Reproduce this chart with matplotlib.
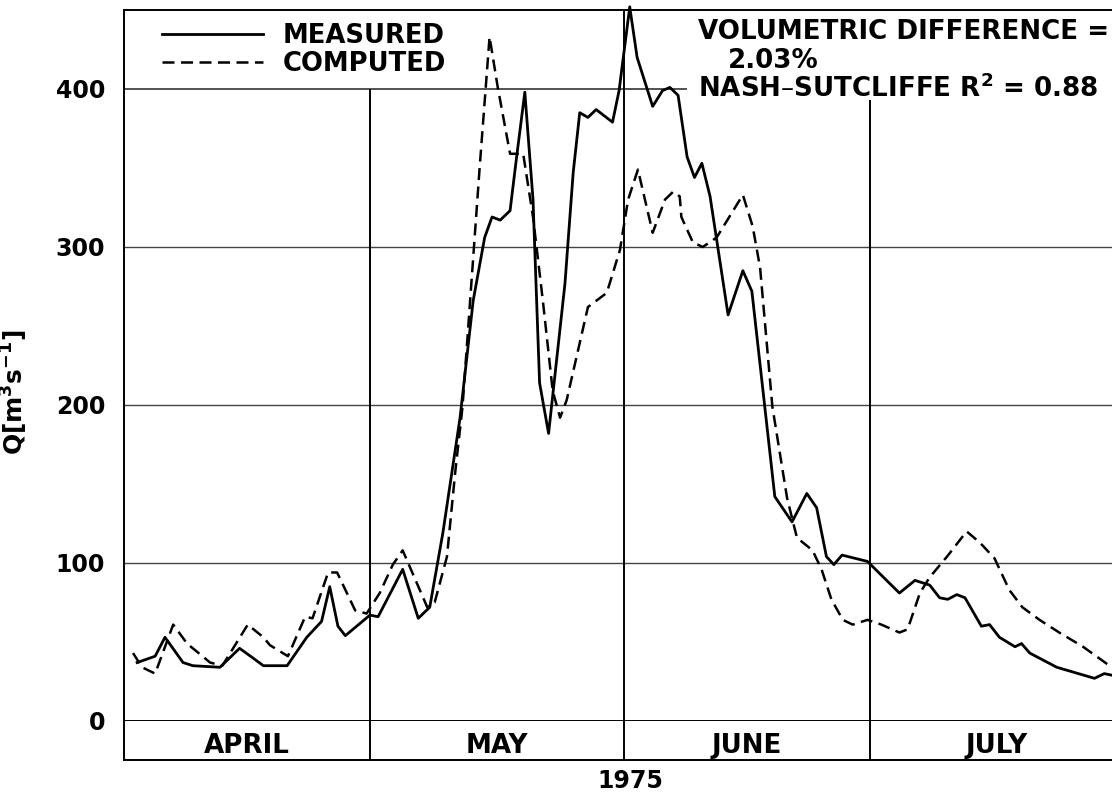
import matplotlib
matplotlib.use('Agg')
import matplotlib.pyplot as plt

plt.rcParams['font.family'] = ['DejaVu Sans']
plt.rcParams['font.weight'] = 'bold'
plt.rcParams['axes.labelweight'] = 'bold'
plt.rcParams['mathtext.fontset'] = 'dejavusans'
plt.rcParams['mathtext.default'] = 'bf'

# days counted from 1 April 1975
months = ['APRIL', 'MAY', 'JUNE', 'JULY']
month_start = [0, 30, 61, 91, 122]
divider_top = [400, 450, 393]

meas_day = [1.6, 3.8, 5.0, 7.2, 8.4, 11.7, 14.1, 15.7, 17.0, 19.9, 22.3, 24.1, 25.1,
            26.1, 27.0, 30.0, 31.0, 34.0, 35.9, 37.3, 38.9, 41.0, 42.6, 44.0, 44.9,
            45.9, 47.1, 47.9, 48.9, 49.9, 50.7, 51.8, 53.8, 54.8, 55.6, 56.6, 57.6,
            59.6, 60.4, 61.7, 62.6, 64.5, 65.7, 66.6, 67.6, 68.7, 69.6, 70.5, 71.5,
            73.7, 75.5, 76.6, 79.4, 81.5, 83.3, 84.5, 85.7, 86.6, 87.6, 90.7, 94.6,
            96.5, 98.3, 99.5, 100.5, 101.6, 102.6, 104.6, 105.6, 106.8, 108.7, 109.5,
            110.5, 113.8, 118.4, 119.6, 120.5]
meas_q = [37, 41, 53, 37, 35, 34, 46, 40, 35, 35, 53, 63, 85,
          60, 54, 67, 66, 96, 65, 72, 119, 192, 266, 306, 319,
          317, 323, 357, 398, 330, 214, 182, 277, 347, 385, 382, 387,
          379, 399, 452, 420, 389, 399, 401, 396, 357, 344, 353, 332,
          257, 285, 272, 142, 126, 144, 135, 104, 99, 105, 101, 81,
          89, 86, 78, 77, 80, 78, 60, 61, 53, 47, 49,
          43, 34, 27, 30, 29]

comp_day = [1.1, 2.2, 3.8, 6.0, 7.7, 10.5, 12.0, 15.1, 17.0, 17.8, 20.0, 22.1, 23.0,
            24.9, 26.0, 28.2, 29.6, 31.2, 32.8, 34.0, 37.0, 37.9, 39.4, 40.4, 41.3,
            43.4, 44.6, 45.6, 47.1, 48.7, 49.9, 51.1, 52.3, 53.2, 54.0, 56.6, 58.9,
            60.5, 61.5, 62.7, 64.5, 66.0, 67.0, 67.8, 68.0, 69.4, 70.6, 72.3, 75.5,
            76.7, 77.6, 79.1, 80.9, 82.1, 84.0, 85.1, 86.3, 87.7, 88.9, 90.7, 92.4,
            94.6, 95.6, 97.1, 98.3, 100.4, 102.8, 104.4, 106.2, 108.0, 109.6, 111.7,
            114.1, 117.0, 120.5]
comp_q = [43, 34, 30, 61, 49, 37, 35, 61, 53, 48, 41, 66, 65,
          94, 94, 70, 68, 81, 99, 108, 72, 75, 104, 157, 199,
          351, 433, 401, 359, 359, 319, 266, 209, 192, 203, 262, 271,
          298, 330, 349, 309, 330, 335, 332, 319, 303, 300, 306, 333,
          313, 287, 199, 141, 116, 108, 96, 77, 64, 61, 64, 61,
          56, 58, 81, 91, 104, 120, 113, 103, 83, 72, 64,
          56, 47, 34]

yticks = [0, 100, 200, 300, 400]

W, H = 1112, 792
fig = plt.figure(figsize=(W / 100, H / 100), dpi=100)
ax = fig.add_axes([124 / W, (H - 721) / H, 1000 / W, 711 / H])
strip = fig.add_axes([124 / W, (H - 760) / H, 1000 / W, 39 / H])

ax.set_xlim(month_start[0], month_start[-1])
ax.set_ylim(0, 450)

for y in yticks[1:-1]:
    ax.axhline(y, color='#444444', lw=1.0, zorder=1)
ax.hlines(yticks[-1], 0, 68.7, color='#222222', lw=1.1, zorder=1)
ax.vlines(month_start[1:4], 0, divider_top, color='black', lw=1.4, zorder=1)

ax.plot(meas_day, meas_q, color='black', lw=2.0, label='MEASURED',
        clip_on=False, zorder=3)
ax.plot(comp_day, comp_q, color='black', lw=1.8, ls='--', dashes=(4.8, 2.6),
        label='COMPUTED', zorder=3)

for s in ax.spines.values():
    s.set_linewidth(1.4)
ax.set_xticks([])
ax.set_yticks(yticks)
ax.tick_params(axis='y', length=0, pad=13.5, labelsize=17)
ax.set_ylabel('Q[m$^{3}$s$^{-1}$]', fontsize=18)
ax.yaxis.set_label_coords(-0.094, 0.462)

ax.legend(loc='upper left', bbox_to_anchor=(0.038, 0.982), frameon=False,
          fontsize=18.6, handlelength=3.9, handletextpad=0.78,
          borderpad=0, borderaxespad=0, labelspacing=0.1)

ax.text(70.0, 436, 'VOLUMETRIC DIFFERENCE =', fontsize=18.8, va='center')
ax.text(73.7, 418, '2.03%', fontsize=18.8, va='center')
ax.text(70.0, 400, 'NASH\u2013SUTCLIFFE R$^{2}$ = 0.88', fontsize=18.8, va='center')

strip.set_xlim(month_start[0], month_start[-1])
strip.set_ylim(0, 1)
strip.vlines(month_start[1:4], 0, 1, color='black', lw=1.4)
for i, m in enumerate(months):
    strip.text((month_start[i] + month_start[i + 1]) / 2, 0.36, m,
               fontsize=18.8, ha='center', va='center')
strip.spines['top'].set_visible(False)
for s in strip.spines.values():
    s.set_linewidth(1.4)
strip.set_xticks([])
strip.set_yticks([])
strip.set_xlabel('1975', fontsize=17)
strip.xaxis.set_label_coords(0.506, -0.23)
strip.xaxis.label.set_va('top')

fig.savefig('out.png', dpi=100)
